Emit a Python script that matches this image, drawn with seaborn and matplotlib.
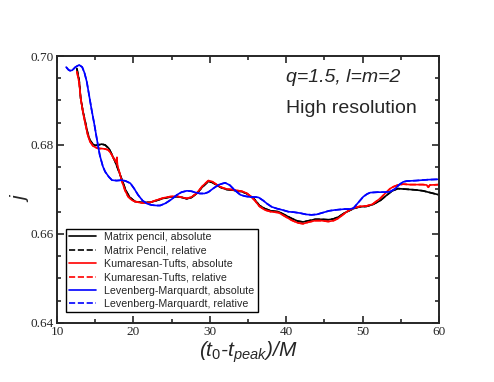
import seaborn as sns
import matplotlib.pyplot as plt
from matplotlib.ticker import MultipleLocator

# Matrix pencil (black)
mp_t = [12.6, 12.9, 13.1, 13.4, 13.7, 14.0, 14.3, 14.7, 15.0, 15.4, 15.85, 16.3, 16.8, 17.2, 17.6,
        18.0, 18.5, 19.0, 19.5, 20.2, 21.0, 21.5, 22.2, 23.0, 23.9, 24.8, 25.7, 26.4, 27.0, 27.6,
        28.3, 29.0, 29.8, 30.3, 30.9, 31.5, 32.2, 32.8, 33.5, 34.2, 34.8, 35.4, 35.9, 36.5, 37.2,
        38.0, 39.0, 39.8, 40.7, 41.5, 42.2, 43.0, 43.8, 44.6, 45.5, 46.2, 46.8, 47.7, 48.2, 48.8,
        49.6, 50.5, 51.3, 52.3, 53.0, 53.8, 54.6, 55.4, 56.2, 57.0, 57.9, 58.6, 59.3, 60.0]
mp_j = [0.6972, 0.6945, 0.6905, 0.6875, 0.6852, 0.6828, 0.6811, 0.6802, 0.6799, 0.6800, 0.6802,
        0.6800, 0.6792, 0.6778, 0.6763, 0.6745, 0.6722, 0.6698, 0.6683, 0.6673, 0.6671, 0.6671,
        0.6671, 0.6675, 0.6680, 0.6683, 0.6684, 0.6682, 0.6679, 0.6682, 0.6691, 0.6705, 0.6718,
        0.6716, 0.6710, 0.6704, 0.6700, 0.6699, 0.6697, 0.6695, 0.6691, 0.6684, 0.6677, 0.6664,
        0.6657, 0.6652, 0.6650, 0.6643, 0.6635, 0.6629, 0.6627, 0.6630, 0.6633, 0.6633, 0.6632,
        0.6634, 0.6638, 0.6648, 0.6652, 0.6657, 0.6661, 0.6662, 0.6666, 0.6675, 0.6685, 0.6696,
        0.6702, 0.6701, 0.6700, 0.6699, 0.6697, 0.6694, 0.6691, 0.6688]

# Kumaresan-Tufts (red)
kt_t = [12.6, 12.9, 13.1, 13.4, 13.7, 14.0, 14.3, 14.7, 15.0, 15.4, 15.85, 16.3, 16.7, 17.1, 17.4,
        17.7, 17.85, 17.9, 18.2, 18.5, 18.9, 19.3, 19.8, 20.2, 21.0, 21.5, 22.2, 23.0, 23.9, 24.8,
        25.7, 26.4, 27.0, 27.6, 28.3, 29.0, 29.8, 30.3, 30.9, 31.5, 32.2, 32.8, 33.5, 34.2, 34.8,
        35.4, 35.9, 36.5, 37.2, 38.0, 39.0, 39.8, 40.7, 41.5, 42.2, 43.0, 43.8, 44.6, 45.5, 46.2,
        46.8, 47.7, 48.2, 48.8, 49.6, 50.5, 51.3, 52.3, 53.0, 53.6, 54.0, 54.6, 55.3, 56.2, 57.0,
        57.9, 58.4, 58.6, 58.8, 60.0]
kt_j = [0.6965, 0.6940, 0.6905, 0.6873, 0.6848, 0.6824, 0.6808, 0.6798, 0.6795, 0.6792, 0.6792,
        0.6791, 0.6789, 0.6780, 0.6770, 0.6762, 0.6772, 0.6755, 0.6737, 0.6718, 0.6698, 0.6684,
        0.6676, 0.6673, 0.6670, 0.6670, 0.6671, 0.6676, 0.6681, 0.6684, 0.6685, 0.6682, 0.6680,
        0.6683, 0.6692, 0.6707, 0.6720, 0.6718, 0.6711, 0.6705, 0.6701, 0.6700, 0.6698, 0.6696,
        0.6692, 0.6684, 0.6675, 0.6662, 0.6654, 0.6650, 0.6648, 0.6640, 0.6631, 0.6625, 0.6623,
        0.6627, 0.6630, 0.6630, 0.6628, 0.6630, 0.6635, 0.6647, 0.6653, 0.6658, 0.6662, 0.6663,
        0.6667, 0.6680, 0.6692, 0.6702, 0.6706, 0.6710, 0.6712, 0.6711, 0.6711, 0.6711, 0.6710,
        0.6705, 0.6710, 0.6711]

# Levenberg-Marquardt (blue)
lm_t = [11.2, 11.5, 11.7, 12.0, 12.4, 12.9, 13.3, 13.6, 13.9, 14.2, 14.5, 14.9, 15.2, 15.6, 16.0,
        16.3, 16.8, 17.2, 17.8, 18.5, 19.0, 19.6, 20.1, 20.6, 21.2, 21.8, 22.4, 23.0, 23.5, 24.2,
        25.0, 25.7, 26.3, 27.0, 27.6, 28.2, 28.7, 29.3, 29.8, 30.5, 31.2, 32.0, 32.6, 33.0, 33.5,
        34.0, 34.6, 35.3, 36.0, 36.4, 37.0, 37.5, 38.1, 38.8, 39.5, 40.3, 41.0, 41.8, 42.6, 43.3,
        44.0, 44.8, 45.6, 46.4, 47.0, 47.7, 48.3, 48.8, 49.4, 50.1, 50.6, 51.0, 52.0, 53.0, 53.6,
        54.2, 54.8, 55.3, 55.8, 57.0, 58.5, 60.0]
lm_j = [0.6975, 0.6969, 0.6967, 0.6968, 0.6975, 0.6980, 0.6975, 0.6962, 0.6942, 0.6912, 0.6882,
        0.6845, 0.6815, 0.6777, 0.6752, 0.6740, 0.6728, 0.6721, 0.6720, 0.6721, 0.6719, 0.6714,
        0.6702, 0.6688, 0.6675, 0.6668, 0.6665, 0.6664, 0.6664, 0.6669, 0.6678, 0.6688, 0.6694,
        0.6697, 0.6696, 0.6693, 0.6691, 0.6691, 0.6694, 0.6703, 0.6711, 0.6715, 0.6710, 0.6703,
        0.6695, 0.6688, 0.6685, 0.6683, 0.6683, 0.6682, 0.6675, 0.6668, 0.6661, 0.6657, 0.6654,
        0.6650, 0.6649, 0.6647, 0.6644, 0.6643, 0.6644, 0.6648, 0.6652, 0.6654, 0.6655, 0.6656,
        0.6656, 0.6658, 0.6670, 0.6684, 0.6690, 0.6693, 0.6694, 0.6694, 0.6695, 0.6701, 0.6711,
        0.6717, 0.6719, 0.6720, 0.6722, 0.6723]

sns.set_style('ticks')
plt.rcParams['mathtext.fontset'] = 'custom'
plt.rcParams['mathtext.it'] = 'Liberation Sans:italic'
plt.rcParams['mathtext.rm'] = 'Liberation Sans'

fig = plt.figure(figsize=(4.94, 3.82), dpi=100)
ax = fig.add_axes([0.1154, 0.1545, 0.7733, 0.6989])

series = [
    (mp_t, mp_j, 'black', 'Matrix pencil, absolute', 'Matrix Pencil, relative'),
    (kt_t, kt_j, 'red', 'Kumaresan-Tufts, absolute', 'Kumaresan-Tufts, relative'),
    (lm_t, lm_j, 'blue', 'Levenberg-Marquardt, absolute', 'Levenberg-Marquardt, relative'),
]
for t, j, c, lab_abs, lab_rel in series:
    sns.lineplot(x=t, y=j, color=c, lw=1.2, label=lab_abs, estimator=None, ax=ax)
    sns.lineplot(x=t, y=j, color=c, lw=1.2, linestyle='--', label=lab_rel, estimator=None, ax=ax)

ax.set_xlim(10, 60)
ax.set_ylim(0.64, 0.70)
ax.xaxis.set_major_locator(MultipleLocator(10))
ax.xaxis.set_minor_locator(MultipleLocator(5))
ax.yaxis.set_major_locator(MultipleLocator(0.02))
ax.yaxis.set_minor_locator(MultipleLocator(0.005))
ax.yaxis.set_major_formatter(plt.FormatStrFormatter('%.2f'))
ax.tick_params(which='both', direction='in', top=True, right=True, width=1.2)
ax.tick_params(which='major', length=5, labelsize=9.5, pad=2)
ax.tick_params(which='minor', length=3)
for lbl in ax.get_xticklabels() + ax.get_yticklabels():
    lbl.set_family('Liberation Serif')
for s in ax.spines.values():
    s.set_linewidth(1.4)

ax.set_xlabel('($t_0$-$t_{peak}$)/M', family='Liberation Sans', style='italic', fontsize=15, labelpad=1)
ax.set_ylabel('j', family='Liberation Sans', style='italic', fontsize=15)
ax.yaxis.set_label_coords(-0.066, 0.46)

ax.text(0.6, 0.918, 'q=1.5, l=m=2', transform=ax.transAxes, family='Liberation Sans',
        style='italic', fontsize=14, va='center')
ax.text(0.6, 0.805, 'High resolution', transform=ax.transAxes, family='Liberation Sans',
        fontsize=14, va='center')

leg = ax.legend(loc='lower left', bbox_to_anchor=(0.024, 0.04), fontsize=7.7, frameon=True,
                fancybox=False, edgecolor='black', framealpha=1, labelspacing=0.32,
                handlelength=2.5, borderpad=0.3, borderaxespad=0, handletextpad=0.75)
leg.get_frame().set_linewidth(1.0)
for txt in leg.get_texts():
    txt.set_family('Liberation Sans')

fig.savefig('out.png', dpi=100)
